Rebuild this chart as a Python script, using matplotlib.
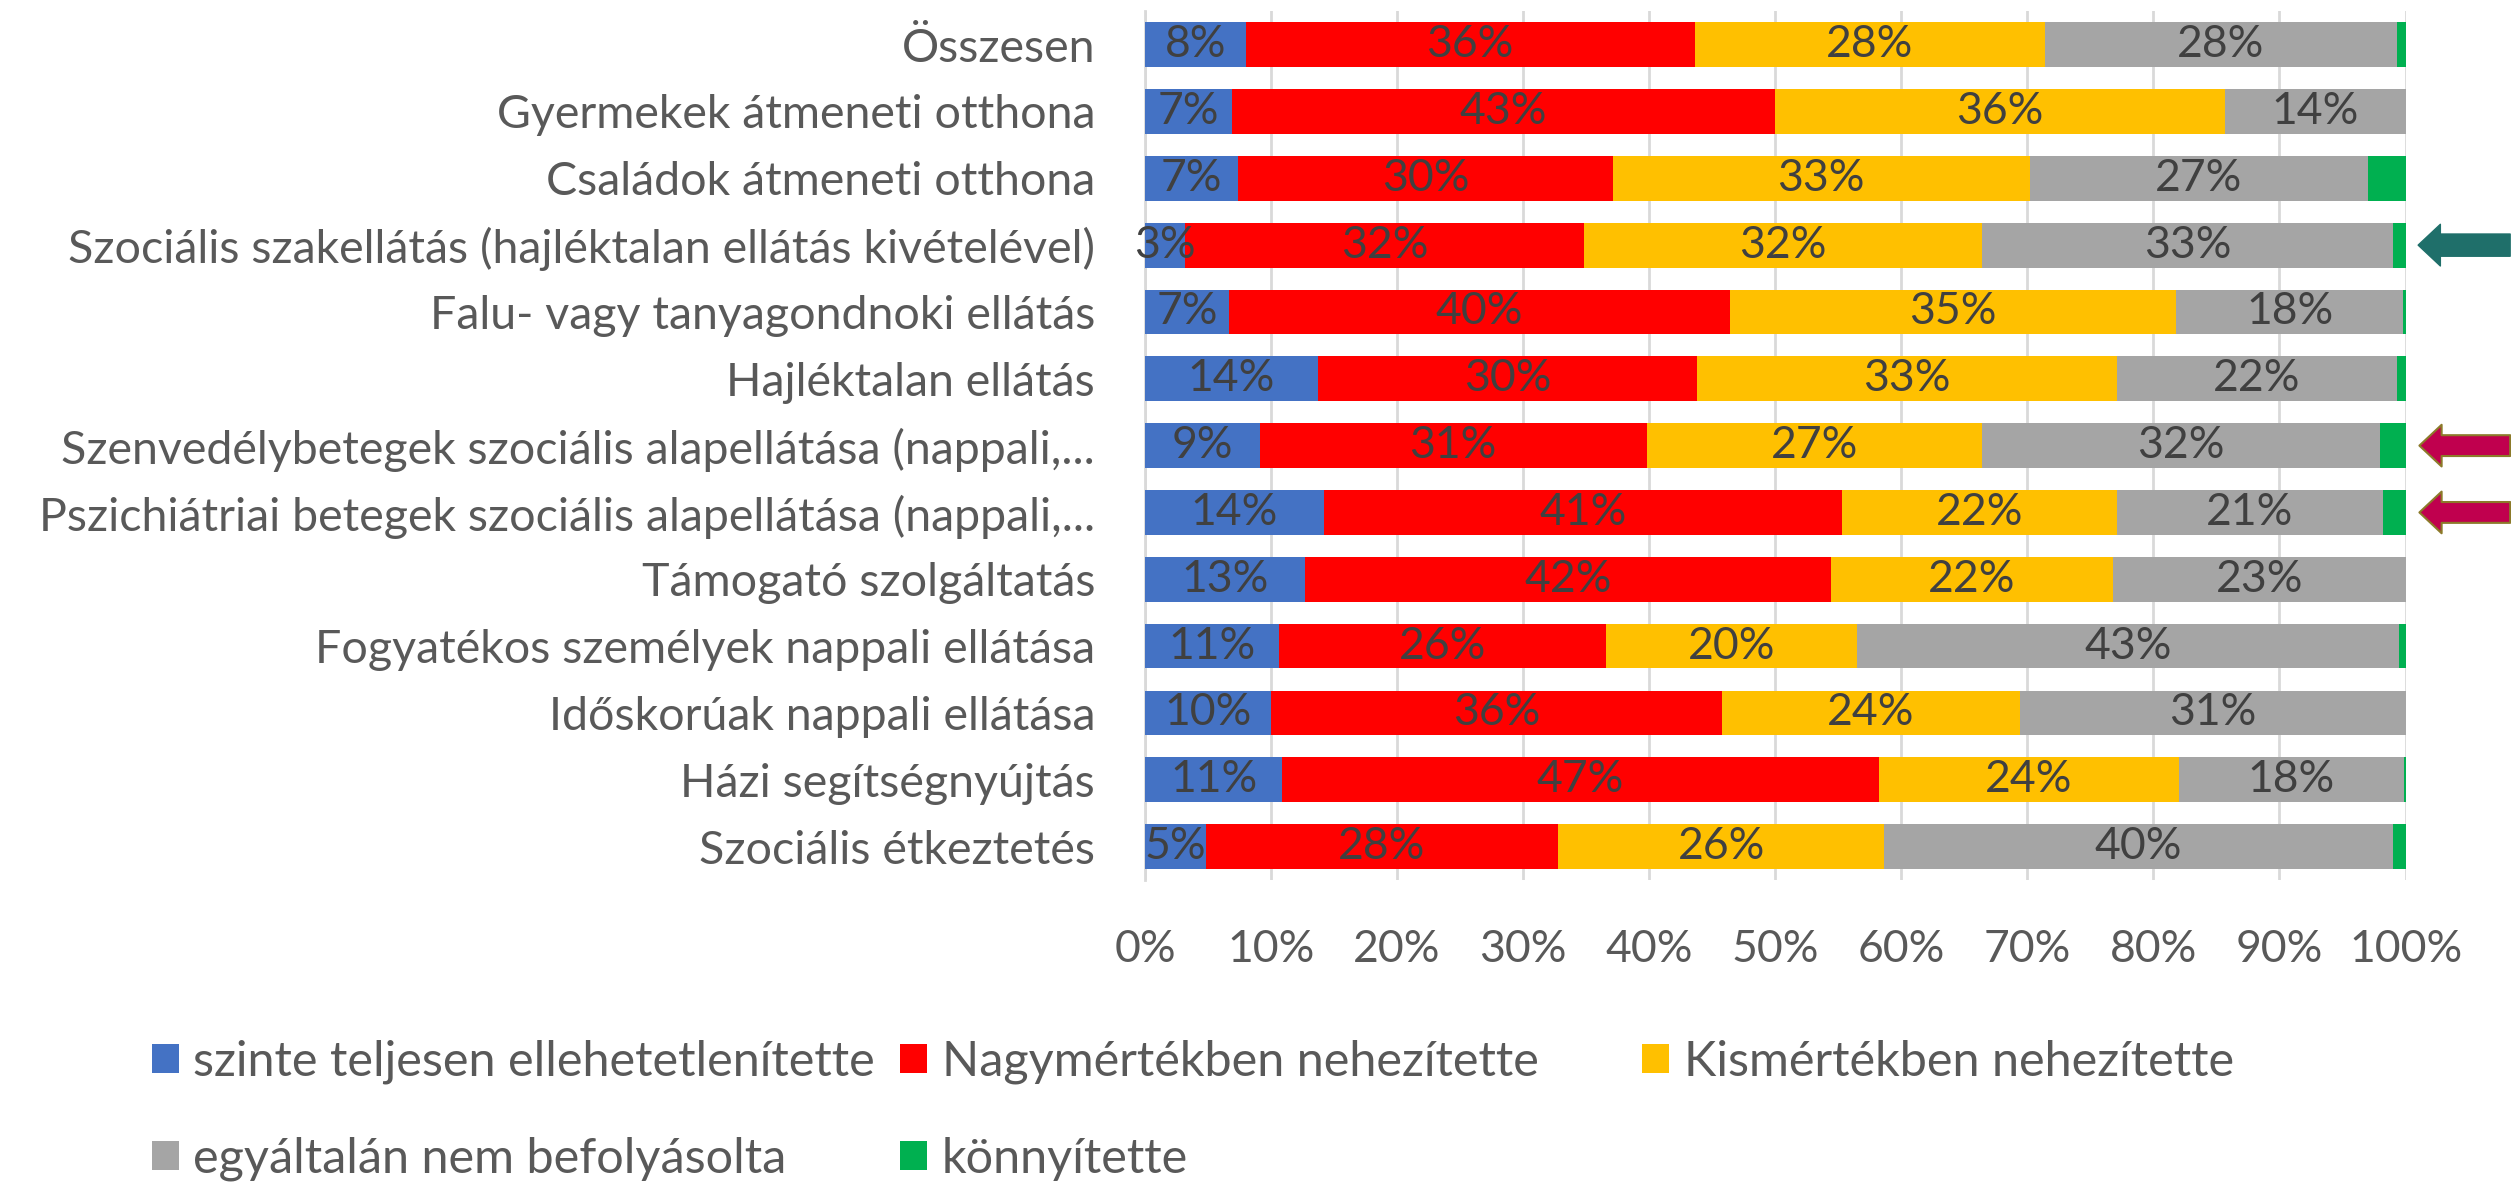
import numpy as np
import matplotlib.pyplot as plt
from matplotlib.transforms import blended_transform_factory

plt.rcParams['font.family'] = ['Lato', 'DejaVu Sans']

# categories listed top to bottom as in the chart
categories = [
    "Összesen",
    "Gyermekek átmeneti otthona",
    "Családok átmeneti otthona",
    "Szociális szakellátás (hajléktalan ellátás kivételével)",
    "Falu- vagy tanyagondnoki ellátás",
    "Hajléktalan ellátás",
    "Szenvedélybetegek szociális alapellátása (nappali,...",
    "Pszichiátriai betegek szociális alapellátása (nappali,...",
    "Támogató szolgáltatás",
    "Fogyatékos személyek nappali ellátása",
    "Időskorúak nappali ellátása",
    "Házi segítségnyújtás",
    "Szociális étkeztetés",
]

series_names = [
    "szinte teljesen ellehetetlenítette",
    "Nagymértékben nehezítette",
    "Kismértékben nehezítette",
    "egyáltalán nem befolyásolta",
    "könnyítette",
]

ellehetetlenitette = [8.0, 6.9, 7.4, 3.2, 6.7, 13.7, 9.1, 14.2, 12.7, 10.6, 10.0, 10.9, 4.8]
nagymertekben = [35.6, 43.1, 29.7, 31.6, 39.7, 30.1, 30.7, 41.1, 41.7, 26.0, 35.8, 47.3, 28.0]
kismertekben = [27.8, 35.7, 33.1, 31.6, 35.4, 33.3, 26.6, 21.8, 22.4, 19.9, 23.6, 23.8, 25.8]
nem_befolyasolta = [27.9, 14.3, 26.8, 32.6, 18.0, 22.2, 31.6, 21.1, 23.2, 43.0, 30.6, 17.9, 40.4]
konnyitette = [0.7, 0.0, 3.0, 1.0, 0.2, 0.7, 2.0, 1.8, 0.0, 0.5, 0.0, 0.1, 1.0]

# rows that get an arrow on the right side
teal_arrow_rows = [3]
pink_arrow_rows = [6, 7]

colors = ["#4472C4", "#FF0000", "#FFC000", "#A5A5A5", "#00B050"]
text_gray = "#595959"
value_gray = "#404040"

series = [ellehetetlenitette, nagymertekben, kismertekben, nem_befolyasolta, konnyitette]

fig = plt.figure(figsize=(25.11, 11.82), dpi=100)
ax = fig.add_axes([0.456, 0.2555, 0.502, 0.735])

y = np.arange(len(categories))
left = np.zeros(len(categories))
handles = []
for i, (vals, name, col) in enumerate(zip(series, series_names, colors)):
    vals = np.array(vals)
    bars = ax.barh(y, vals, left=left, height=0.67, color=col, label=name, zorder=3)
    handles.append(bars)
    if i < 4:
        for yy, l, v in zip(y, left, vals):
            if v > 0:
                ax.text(l + v / 2, yy, "{:.0f}%".format(v), ha="center", va="center",
                        fontsize=32, color=value_gray, zorder=4)
    left += vals

ax.set_xlim(0, 100)
ax.set_ylim(len(categories) - 0.5, -0.5)
ax.set_yticks(y)
ax.set_yticklabels(categories, fontsize=33.5, color=text_gray)
ax.set_xticks(np.arange(0, 101, 10))
ax.set_xticklabels(["{}%".format(v) for v in range(0, 101, 10)], fontsize=32, color=text_gray)
ax.tick_params(axis="both", length=0)
ax.tick_params(axis="y", pad=36)
ax.tick_params(axis="x", pad=35)
ax.grid(axis="x", color="#D9D9D9", linewidth=2, zorder=0)
for s in ["top", "right", "bottom"]:
    ax.spines[s].set_visible(False)
ax.spines["left"].set_color("#D9D9D9")
ax.spines["left"].set_linewidth(2)

# arrows pointing at highlighted rows
trans = blended_transform_factory(ax.transAxes, ax.transData)
for r in teal_arrow_rows:
    ax.annotate("", xy=(1.01, r), xytext=(1.083, r), xycoords=trans, textcoords=trans,
                arrowprops=dict(arrowstyle="simple,head_length=16,head_width=30,tail_width=16",
                                mutation_scale=1, fc="#1F6F6A", ec="#1F6F6A",
                                shrinkA=0, shrinkB=0), annotation_clip=False)
for r in pink_arrow_rows:
    ax.annotate("", xy=(1.011, r), xytext=(1.083, r), xycoords=trans, textcoords=trans,
                arrowprops=dict(arrowstyle="simple,head_length=16,head_width=30,tail_width=15",
                                mutation_scale=1, fc="#C0004E", ec="#8C7A2A", lw=1.5,
                                shrinkA=0, shrinkB=0), annotation_clip=False)

# legend: three columns, filled row by row
legend_pos = [(0.0605, 0.1015), (0.3585, 0.1015), (0.654, 0.1015),
              (0.0605, 0.0195), (0.3585, 0.0195)]
for h, name, pos in zip(handles, series_names, legend_pos):
    leg = fig.legend([h], [name], loc="center left", bbox_to_anchor=pos, frameon=False,
                     fontsize=35, handlelength=0.55, handleheight=0.55, handletextpad=0.3,
                     borderpad=0, borderaxespad=0)
    for t in leg.get_texts():
        t.set_color(text_gray)

fig.savefig("out.png", dpi=100)
